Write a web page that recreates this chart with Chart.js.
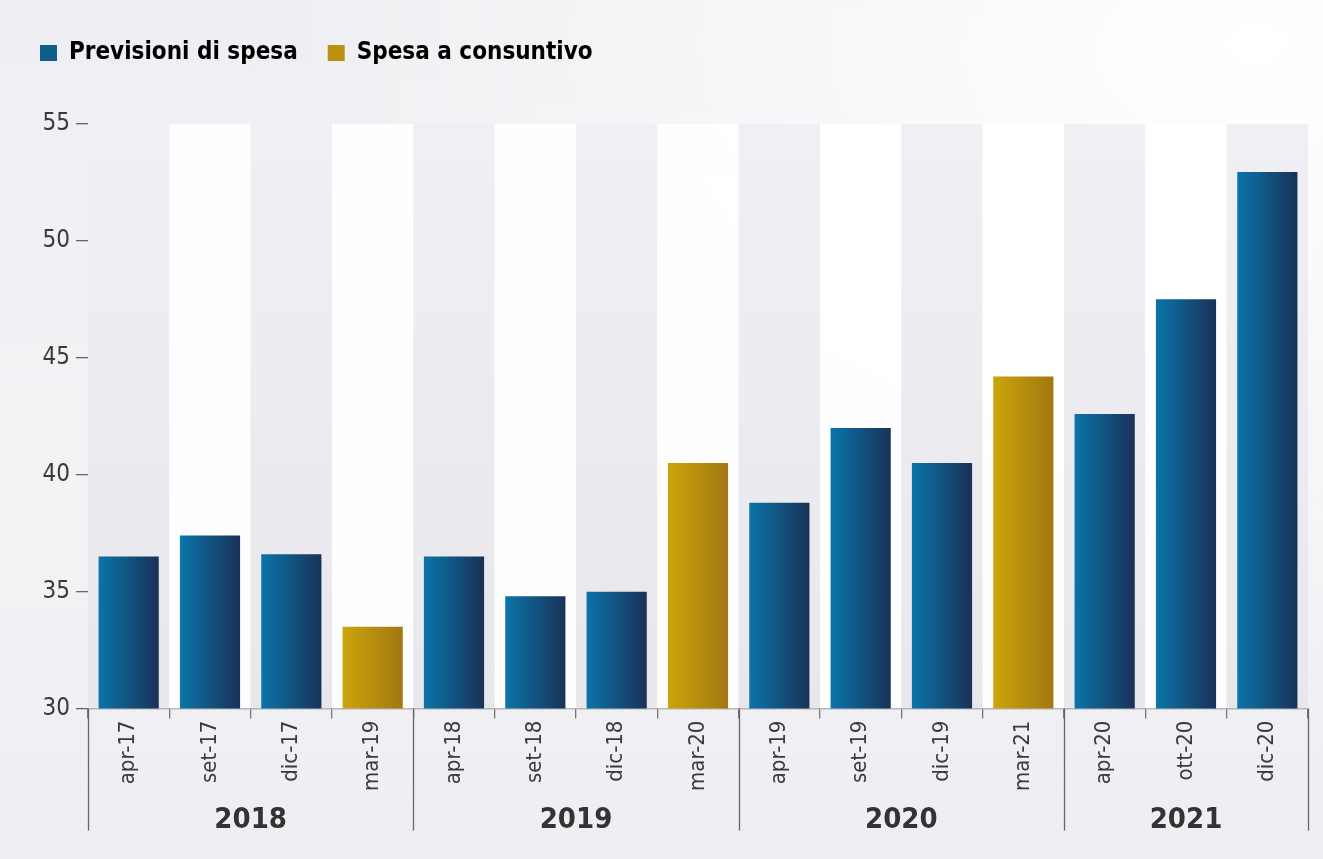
<!DOCTYPE html>
<html>
<head>
<meta charset="utf-8">
<script src="https://cdn.jsdelivr.net/npm/chart.js@4.4.1/dist/chart.umd.min.js"></script>
<style>
  html, body { margin: 0; padding: 0; }
  body {
    width: 1323px; height: 859px; overflow: hidden;
    background:
      radial-gradient(ellipse at 95% 5%, rgba(255,255,255,1) 0%, rgba(255,255,255,0) 55%),
      linear-gradient(180deg, #efeff3 0%, #f3f3f6 60%, #eeeef2 100%);
  }
  canvas { display: block; }
</style>
</head>
<body>
<canvas id="myChart" width="1323" height="859"></canvas>
<script>
const labels = ['apr-17','set-17','dic-17','mar-19','apr-18','set-18','dic-18','mar-20',
                'apr-19','set-19','dic-19','mar-21','apr-20','ott-20','dic-20'];
const previsioni = [36.5, 37.4, 36.6, null, 36.5, 34.8, 35.0, null,
                    38.8, 42.0, 40.5, null, 42.6, 47.5, 52.95];
const consuntivo = [null, null, null, 33.5, null, null, null, 40.5,
                    null, null, null, 44.2, null, null, null];
const years = ['2018', '2019', '2020', '2021'];
const yearSizes = [4, 4, 4, 3];
const yTicks = [30, 35, 40, 45, 50, 55];

const FONT = "'Liberation Sans Narrow', 'DejaVu Sans Condensed', sans-serif";
const BAR_PCT = 0.74;

function barFill(ctx, c1, c2) {
  const chart = ctx.chart;
  const area = chart.chartArea;
  if (!area) return c1;
  const x = chart.scales.x.getPixelForValue(ctx.dataIndex);
  const w = (area.right - area.left) / labels.length * BAR_PCT;
  const g = chart.ctx.createLinearGradient(x - w / 2, 0, x + w / 2, 0);
  g.addColorStop(0, c1);
  g.addColorStop(1, c2);
  return g;
}

// extra room under the legend
const legendGap = {
  id: 'legendGap',
  beforeInit(chart) {
    const fit = chart.legend.fit;
    chart.legend.fit = function () {
      fit.bind(chart.legend)();
      this.height += 49;
    };
  }
};

// alternating column bands behind the bars
const bands = {
  id: 'bands',
  beforeDatasetsDraw(chart) {
    const { ctx, chartArea, scales } = chart;
    const step = (chartArea.right - chartArea.left) / labels.length;
    const g = ctx.createLinearGradient(0, chartArea.top, 0, chartArea.bottom);
    g.addColorStop(0, '#f0f0f4');
    g.addColorStop(1, '#e7e7ec');
    ctx.save();
    for (let i = 0; i < labels.length; i++) {
      const x = scales.x.getPixelForValue(i) - step / 2;
      ctx.fillStyle = i % 2 === 0 ? g : 'rgba(255,255,255,0.9)';
      ctx.fillRect(x, chartArea.top, step, chartArea.bottom - chartArea.top);
    }
    ctx.restore();
  }
};

// year group labels and separators under the month labels
const yearGroups = {
  id: 'yearGroups',
  afterDraw(chart) {
    const { ctx, chartArea, scales } = chart;
    const step = (chartArea.right - chartArea.left) / labels.length;
    const lineBottom = chartArea.bottom + 122;
    ctx.save();
    ctx.strokeStyle = '#666';
    ctx.lineWidth = 1.3;
    ctx.fillStyle = '#333';
    ctx.font = "bold 29px " + FONT;
    ctx.textAlign = 'center';
    ctx.textBaseline = 'middle';
    let start = 0;
    for (let k = 0; k <= years.length; k++) {
      const x = scales.x.getPixelForValue(start) - step / 2;
      ctx.beginPath();
      ctx.moveTo(Math.round(x) + 0.5, chartArea.bottom);
      ctx.lineTo(Math.round(x) + 0.5, lineBottom);
      ctx.stroke();
      if (k < years.length) {
        const mid = scales.x.getPixelForValue(start + (yearSizes[k] - 1) / 2);
        ctx.fillText(years[k], mid, chartArea.bottom + 112);
        start += yearSizes[k];
      }
    }
    ctx.restore();
  }
};

const ctx = document.getElementById('myChart');
Chart.defaults.color = '#3a3a3a';
Chart.defaults.font.family = FONT;

new Chart(ctx, {
  type: 'bar',
  data: {
    labels: labels,
    datasets: [{
      label: 'Previsioni di spesa',
      data: previsioni,
      backgroundColor: c => barFill(c, '#0a75a9', '#1a3158'),
      borderWidth: 0
    }, {
      label: 'Spesa a consuntivo',
      data: consuntivo,
      backgroundColor: c => barFill(c, '#cba50c', '#a27712'),
      borderWidth: 0
    }]
  },
  options: {
    responsive: false,
    animation: false,
    devicePixelRatio: 1,
    skipNull: true,
    categoryPercentage: 1,
    barPercentage: BAR_PCT,
    layout: { padding: { left: 10, right: 15, top: 11, bottom: 66 } },
    plugins: {
      tooltip: { enabled: false },
      legend: {
        position: 'top',
        align: 'start',
        labels: {
          boxWidth: 17,
          boxHeight: 16,
          padding: 30,
          color: '#3a3a3a',
          font: { size: 24, weight: 'bold', family: FONT },
          generateLabels(chart) {
            return [
              { text: 'Previsioni di spesa', fillStyle: '#0e5d8d', strokeStyle: '#0e5d8d', lineWidth: 0, datasetIndex: 0 },
              { text: 'Spesa a consuntivo', fillStyle: '#bb9010', strokeStyle: '#bb9010', lineWidth: 0, datasetIndex: 1 }
            ];
          }
        }
      }
    },
    scales: {
      x: {
        offset: true,
        grid: {
          offset: true,
          drawOnChartArea: false,
          tickLength: 10,
          color: '#777',
          lineWidth: 1.3
        },
        border: { display: true, color: '#777', width: 1.3 },
        ticks: {
          minRotation: 90,
          maxRotation: 90,
          autoSkip: false,
          padding: 2,
          color: '#3a3a3a',
          font: { size: 22, family: FONT }
        }
      },
      y: {
        min: 30,
        max: 55,
        afterBuildTicks(axis) { axis.ticks = yTicks.map(v => ({ value: v })); },
        afterFit(axis) { axis.width = 78; },
        grid: {
          drawOnChartArea: false,
          tickLength: 12,
          color: '#666',
          lineWidth: 1.3
        },
        border: { display: false },
        ticks: {
          padding: 6,
          color: '#3a3a3a',
          font: { size: 24, family: FONT }
        }
      }
    }
  },
  plugins: [legendGap, bands, yearGroups]
});
</script>
</body>
</html>
